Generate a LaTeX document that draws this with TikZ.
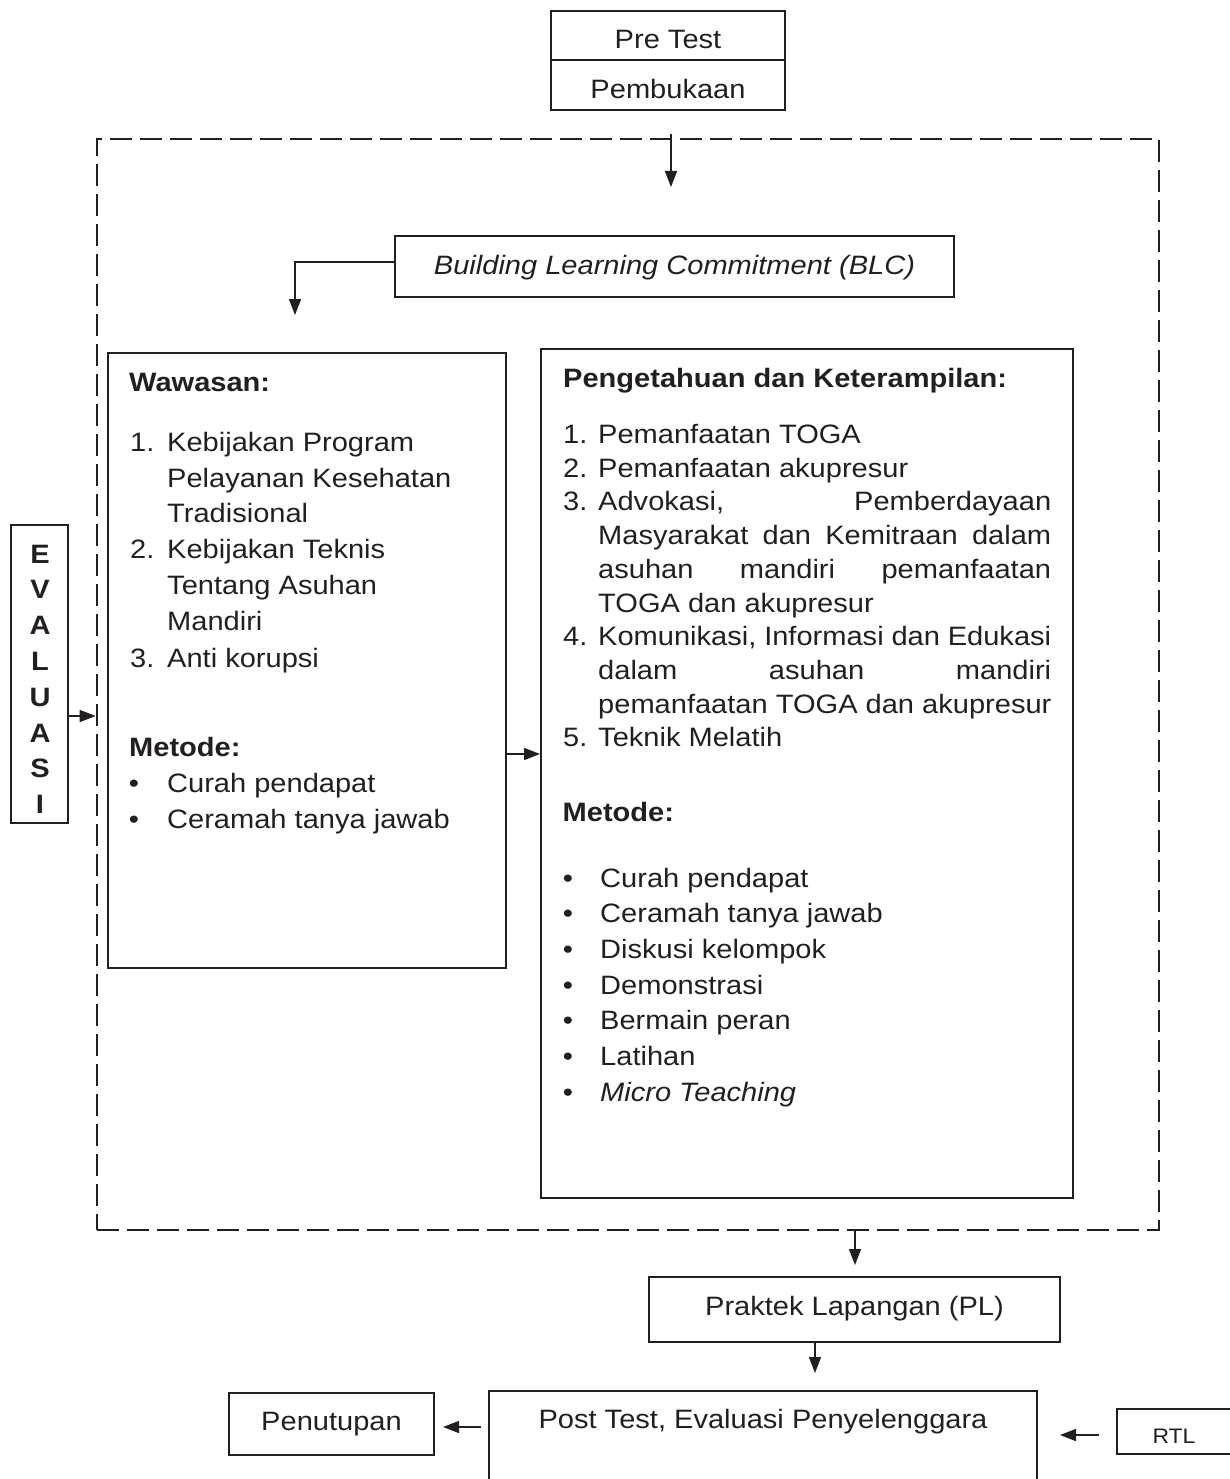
\documentclass[tikz,border=0pt]{standalone}
\usepackage{fontspec}
\setmainfont{Liberation Sans}[FakeStretch=1.092]
\usetikzlibrary{arrows.meta}
\definecolor{ink}{HTML}{231F20}
\newcommand\fsz{\fontsize{26.6pt}{30pt}\selectfont}
\newcommand\fsmall{\fontsize{21pt}{24pt}\selectfont}
\begin{document}
\begin{tikzpicture}[x=1pt,y=-1pt,
  every node/.style={text=ink, font=\fsz},
  box/.style={draw=ink, line width=1.9pt, inner sep=0pt, text depth=0pt},
  txt/.style={anchor=base west, inner sep=0pt},
  bul/.style={anchor=base, inner sep=0pt},
  hd/.style={anchor=base west, inner sep=0pt, font=\fsz\bfseries},
  arr/.style={draw=ink, line width=1.5pt, -{Triangle[length=16pt,width=12pt]}},
  frm/.style={draw=ink, line width=2.6pt, dash pattern=on 21.7pt off 8.3pt, inner sep=0pt}]
\useasboundingbox (0,0) rectangle (1229,1479);

% top boxes
\node[box, minimum width=234pt, minimum height=49pt, text height=27pt] (pre) at (668,35.5) {Pre Test};
\node[box, minimum width=234pt, minimum height=50pt, text height=28pt] (pemb) at (668,85) {Pembukaan};

% dashed frame
\node[frm, minimum width=1062pt, minimum height=1091pt] (frame) at (628,684.5) {};

% BLC
\node[box, minimum width=559pt, minimum height=61pt, text height=15pt, font=\fsz\itshape] (blc) at (674.5,266.5) {Building Learning Commitment (BLC)};

% Evaluasi
\node[box, minimum width=57pt, minimum height=298pt] (eval) at (39.5,674) {};
\foreach \L [count=\i from 0] in {E,V,A,L,U,A,S,I}
  {\node[bul, font=\fsz\bfseries] (ev\i) at (40,{563+35.8*\i}) {\L};}

% left box
\node[box, minimum width=398pt, minimum height=615pt] (lbox) at (307,660.5) {};
\node[hd] (lw) at (129,391) {Wawasan:};
\node[txt] (ln1) at (130,451) {1.};
\node[txt] (lt1) at (167,451) {Kebijakan Program};
\node[txt] (lt1b) at (167,487) {Pelayanan Kesehatan};
\node[txt] (lt1c) at (167,522) {Tradisional};
\node[txt] (ln2) at (130,558) {2.};
\node[txt] (lt2) at (167,558) {Kebijakan Teknis};
\node[txt] (lt2b) at (167,594) {Tentang Asuhan};
\node[txt] (lt2c) at (167,630) {Mandiri};
\node[txt] (ln3) at (130,667) {3.};
\node[txt] (lt3) at (167,667) {Anti korupsi};
\node[hd] (lm) at (129,756) {Metode:};
\node[bul] (lb1) at (134,792) {•};
\node[txt] (lbt1) at (167,792) {Curah pendapat};
\node[bul] (lb2) at (134,828) {•};
\node[txt] (lbt2) at (167,828) {Ceramah tanya jawab};

% right box
\node[box, minimum width=532pt, minimum height=849pt] (rbox) at (807,773.5) {};
\node[hd] (rh) at (563,387) {Pengetahuan dan Keterampilan:};
\node[txt] (rn1) at (563,443.5) {1.};
\node[txt] (rt1) at (598,443.5) {Pemanfaatan TOGA};
\node[txt] (rn2) at (563,477.2) {2.};
\node[txt] (rt2) at (598,477.2) {Pemanfaatan akupresur};
\node[txt] (rn3) at (563,510.9) {3.};
\node[txt] (rt3) at (598,510.9) {\makebox[453pt][s]{Advokasi, Pemberdayaan}};
\node[txt] (rt3b) at (598,544.6) {\makebox[453pt][s]{Masyarakat dan Kemitraan dalam}};
\node[txt] (rt3c) at (598,578.3) {\makebox[453pt][s]{asuhan mandiri pemanfaatan}};
\node[txt] (rt3d) at (598,612) {TOGA dan akupresur};
\node[txt] (rn4) at (563,645.7) {4.};
\node[txt] (rt4) at (598,645.7) {\makebox[453pt][s]{Komunikasi, Informasi dan Edukasi}};
\node[txt] (rt4b) at (598,679.4) {\makebox[453pt][s]{dalam asuhan mandiri}};
\node[txt] (rt4c) at (598,713.1) {pemanfaatan TOGA dan akupresur};
\node[txt] (rn5) at (563,746.8) {5.};
\node[txt] (rt5) at (598,746.8) {Teknik Melatih};
\node[hd] (rm) at (562.5,821) {Metode:};
\foreach \t [count=\i from 0] in {Curah pendapat, Ceramah tanya jawab, Diskusi kelompok, Demonstrasi, Bermain peran, Latihan, \textit{Micro Teaching}}
  {\node[bul] (rb\i) at (568,{887+35.7*\i}) {•};
   \node[txt] (rbt\i) at (600,{887+35.7*\i}) {\t};}

% bottom boxes
\node[box, minimum width=411pt, minimum height=65pt, text height=11pt] (pl) at (854.5,1309.5) {Praktek Lapangan (PL)};
\node[box, minimum width=548pt, minimum height=109pt, text height=0pt, text depth=35pt] (post) at (763,1445.5) {Post Test, Evaluasi Penyelenggara};
\node[box, minimum width=205pt, minimum height=62pt, text height=12pt] (pen) at (331.5,1424) {Penutupan};
\node[box, minimum width=114pt, minimum height=45pt, text height=23pt, font=\fsmall] (rtl) at (1174,1431.5) {RTL};

% connectors
\coordinate (t1) at (671,134);
\coordinate (t2) at (671,187);
\draw[arr] (t1) -- (t2);
\coordinate (b1) at (395,262);
\coordinate (b2) at (295,315);
\draw[arr] (blc.west |- b1) -| (b2);
\coordinate (evy) at (97,716);
\draw[arr] (eval.east |- evy) -- (frame.west |- evy);
\coordinate (lr) at (0,754);
\draw[arr] (lbox.east |- lr) -- (rbox.west |- lr);
\coordinate (pa) at (855,1265);
\draw[arr] (frame.south -| pa) -- (pa);
\coordinate (pb) at (815,1373);
\draw[arr] (pl.south -| pb) -- (pb);
\coordinate (q1) at (481,1427);
\coordinate (q2) at (443,1427);
\draw[arr] (q1) -- (q2);
\coordinate (r1) at (1099,1435);
\coordinate (r2) at (1060,1435);
\draw[arr] (r1) -- (r2);
\end{tikzpicture}
\end{document}
